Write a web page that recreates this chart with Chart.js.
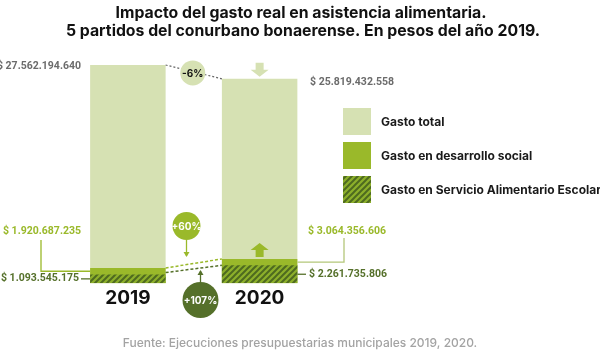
<!DOCTYPE html>
<html lang="es">
<head>
<meta charset="utf-8">
<script src="https://cdn.jsdelivr.net/npm/chart.js@4.4.0/dist/chart.umd.min.js"></script>
<style>
  html, body { margin: 0; padding: 0; background: #fff; }
  canvas { display: block; }
</style>
</head>
<body>
<canvas id="gastoChart" width="600" height="350"></canvas>
<script>
// datos
const years = ['2019', '2020'];
const gastoTotal = [27562194640, 25819432558];
const gastoDesarrollo = [1920687235, 3064356606];
const gastoSAE = [1093545175, 2261735806];
const seriesNames = ['Gasto total', 'Gasto en desarrollo social', 'Gasto en Servicio Alimentario Escolar'];
const titleLines = ['Impacto del gasto real en asistencia alimentaria.', '5 partidos del conurbano bonaerense. En pesos del año 2019.'];
const sourceText = 'Fuente: Ejecuciones presupuestarias municipales 2019, 2020.';

const LIGHT = '#d6e1b3';
const GREEN = '#9ab92a';
const DARK = '#55702a';
const GRAY = '#6b6b6b';
const FONT = 'Inter, "Open Sans", sans-serif';
const NUMFONT = 'bold 10.5px Roboto, sans-serif';

function fmt(v) {
  return '$ ' + String(v).replace(/\B(?=(\d{3})+(?!\d))/g, '.');
}
function pct(a, b) {
  const p = Math.round((b - a) / a * 100);
  return (p > 0 ? '+' : '') + p + '%';
}

function makeHatch() {
  const c = document.createElement('canvas');
  c.width = 6; c.height = 6;
  const g = c.getContext('2d');
  g.fillStyle = '#8db02b';
  g.fillRect(0, 0, 6, 6);
  g.strokeStyle = '#4e6a1f';
  g.lineWidth = 2;
  g.beginPath();
  g.moveTo(0, 6); g.lineTo(6, 0);
  g.moveTo(-3, 3); g.lineTo(3, -3);
  g.moveTo(3, 9); g.lineTo(9, 3);
  g.stroke();
  return g.createPattern(c, 'repeat');
}
const hatch = makeHatch();

function line(ctx, pts, color, width, dash) {
  ctx.save();
  ctx.strokeStyle = color;
  ctx.lineWidth = width;
  ctx.setLineDash(dash || []);
  ctx.beginPath();
  ctx.moveTo(pts[0][0], pts[0][1]);
  for (let i = 1; i < pts.length; i++) ctx.lineTo(pts[i][0], pts[i][1]);
  ctx.stroke();
  ctx.restore();
}
function text(ctx, str, x, y, color, font, align) {
  ctx.fillStyle = color;
  ctx.font = font;
  ctx.textAlign = align || 'left';
  ctx.textBaseline = 'middle';
  ctx.fillText(str, x, y);
}
function circle(ctx, x, y, r, fill, label, color, font) {
  ctx.beginPath();
  ctx.arc(x, y, r, 0, Math.PI * 2);
  ctx.fillStyle = fill;
  ctx.fill();
  text(ctx, label, x, y + 1, color, font, 'center');
}
// flecha gruesa (dir 1 = abajo, -1 = arriba), tipY = punta
function bigArrow(ctx, x, tipY, dir, color) {
  const head = 7, shaft = 7, hw = 9, sw = 4;
  ctx.fillStyle = color;
  ctx.beginPath();
  ctx.moveTo(x, tipY);
  ctx.lineTo(x - hw, tipY - dir * head);
  ctx.lineTo(x - sw, tipY - dir * head);
  ctx.lineTo(x - sw, tipY - dir * (head + shaft));
  ctx.lineTo(x + sw, tipY - dir * (head + shaft));
  ctx.lineTo(x + sw, tipY - dir * head);
  ctx.lineTo(x + hw, tipY - dir * head);
  ctx.closePath();
  ctx.fill();
}
function smallArrow(ctx, x, fromY, toY, color) {
  line(ctx, [[x, fromY], [x, toY]], color, 1.3);
  const d = toY > fromY ? 1 : -1;
  ctx.fillStyle = color;
  ctx.beginPath();
  ctx.moveTo(x, toY + d);
  ctx.lineTo(x - 3, toY - d * 4);
  ctx.lineTo(x + 3, toY - d * 4);
  ctx.closePath();
  ctx.fill();
}

const annotations = {
  id: 'annotations',
  afterDraw(chart) {
    const ctx = chart.ctx;
    const tot = chart.getDatasetMeta(0).data;
    const des = chart.getDatasetMeta(1).data;
    const sae = chart.getDatasetMeta(2).data;
    const L = b => b.x - b.width / 2;
    const R = b => b.x + b.width / 2;
    ctx.save();

    // titulo
    text(ctx, titleLines[0], 301, 13, '#111', 'bold 15.8px ' + FONT, 'center');
    text(ctx, titleLines[1], 303, 31, '#111', 'bold 15.8px ' + FONT, 'center');

    // gasto total
    text(ctx, fmt(gastoTotal[0]), 81, tot[0].y + 1, GRAY, NUMFONT, 'right');
    text(ctx, fmt(gastoTotal[1]), 310, tot[1].y + 4, GRAY, NUMFONT, 'left');
    const cx = (R(tot[0]) + L(tot[1])) / 2, cy = (tot[0].y + tot[1].y) / 2;
    line(ctx, [[R(tot[0]), tot[0].y], [L(tot[1]), tot[1].y]], '#666', 1.2, [2, 2]);
    circle(ctx, cx - 1, cy + 1, 12.5, LIGHT, pct(gastoTotal[0], gastoTotal[1]), '#111', 'bold 10px ' + FONT);
    bigArrow(ctx, tot[1].x, tot[1].y - 2, 1, LIGHT);

    // desarrollo social
    const d0 = (des[0].y + sae[0].y) / 2, d1 = (des[1].y + sae[1].y) / 2;
    text(ctx, fmt(gastoDesarrollo[0]), 81, 231, GREEN, NUMFONT, 'right');
    line(ctx, [[41, 240], [41, d0], [L(des[0]), d0]], GREEN, 1.3);
    text(ctx, fmt(gastoDesarrollo[1]), 308, 231, GREEN, NUMFONT, 'left');
    line(ctx, [[R(des[1]), d1], [344, d1], [344, 238]], '#b4c77a', 1.3);
    line(ctx, [[R(des[0]), des[0].y], [L(des[1]), des[1].y]], GREEN, 1.5, [3, 2]);
    bigArrow(ctx, des[1].x, des[1].y - 16, -1, GREEN);
    circle(ctx, 186.5, 226, 14, GREEN, pct(gastoDesarrollo[0], gastoDesarrollo[1]), '#fff', 'bold 10px ' + FONT);
    smallArrow(ctx, 186.5, 240, 256, GREEN);

    // servicio alimentario escolar
    const s0 = (sae[0].y + sae[0].base) / 2, s1 = (sae[1].y + sae[1].base) / 2;
    text(ctx, fmt(gastoSAE[0]), 79, s0, DARK, NUMFONT, 'right');
    line(ctx, [[81, s0], [L(sae[0]), s0]], DARK, 1.3);
    text(ctx, fmt(gastoSAE[1]), 309, s1, DARK, NUMFONT, 'left');
    line(ctx, [[R(sae[1]), s1], [306, s1]], DARK, 1.3);
    line(ctx, [[R(sae[0]), sae[0].y - 2], [L(sae[1]), sae[1].y]], DARK, 1.5, [3, 2]);
    circle(ctx, 200.5, 300, 18, DARK, pct(gastoSAE[0], gastoSAE[1]), '#fff', 'bold 10px ' + FONT);
    smallArrow(ctx, 200.5, 282, 271, DARK);

    // leyenda
    const sw = [LIGHT, GREEN, hatch];
    const tops = [108, 142, 176];
    for (let i = 0; i < 3; i++) {
      ctx.fillStyle = sw[i];
      ctx.fillRect(343, tops[i], 28, 27);
      text(ctx, seriesNames[i], 381, tops[i] + 14, '#1a1a1a', 'bold 12px ' + FONT, 'left');
    }

    // fuente
    text(ctx, sourceText, 300, 343, '#a3a3a3', '500 12px ' + FONT, 'center');
    ctx.restore();
  }
};

var ctx = document.getElementById('gastoChart').getContext('2d');
var gastoChart = new Chart(ctx, {
  type: 'bar',
  data: {
    labels: years,
    datasets: [
      { label: seriesNames[0], data: gastoTotal, backgroundColor: LIGHT, order: 3 },
      { label: seriesNames[1], data: gastoDesarrollo, backgroundColor: GREEN, order: 2 },
      { label: seriesNames[2], data: gastoSAE, backgroundColor: hatch, order: 1 }
    ]
  },
  options: {
    responsive: false,
    animation: false,
    datasets: {
      bar: { grouped: false, categoryPercentage: 1, barPercentage: 0.573, borderWidth: 0 }
    },
    layout: { padding: { left: 62, right: 274.5, top: 65, bottom: 36 } },
    scales: {
      x: {
        grid: { display: false, drawTicks: false },
        border: { display: false },
        ticks: { color: '#111', padding: 4, font: { family: FONT, size: 19, weight: 'bold' } }
      },
      y: { display: false, min: 0, max: Math.max(...gastoTotal) }
    },
    plugins: {
      legend: { display: false },
      tooltip: { enabled: false },
      title: { display: false }
    }
  },
  plugins: [annotations]
});
</script>
</body>
</html>
